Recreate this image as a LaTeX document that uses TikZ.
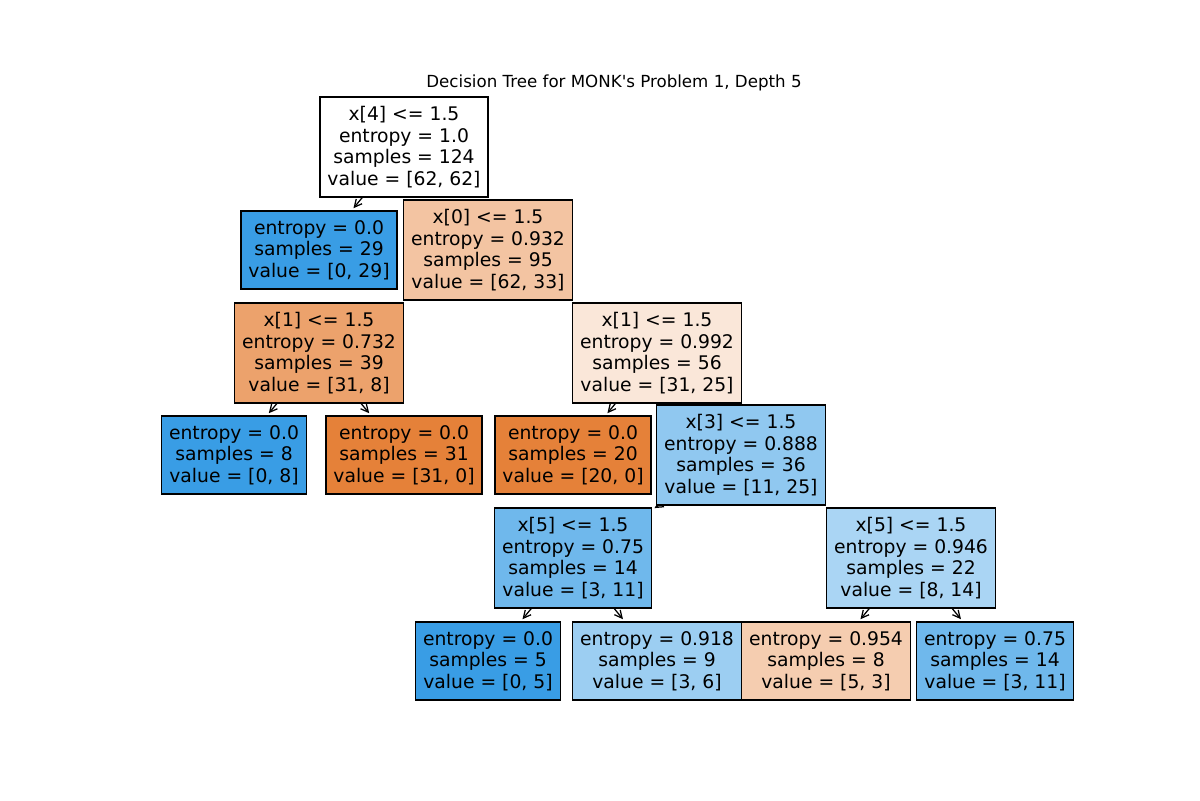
\documentclass[tikz,border=0pt]{standalone}
\usepackage{fontspec}
\newfontfamily\dvs{DejaVu Sans}
\usetikzlibrary{arrows.meta}
\pgfdeclarelayer{bg}
\pgfdeclarelayer{d5}
\pgfdeclarelayer{d4}
\pgfdeclarelayer{d3}
\pgfdeclarelayer{d2}
\pgfdeclarelayer{d1}
\pgfsetlayers{bg,d5,d4,d3,d2,d1,main}
\definecolor{cwhite}{RGB}{255,255,255}
\definecolor{corange}{RGB}{229,129,57}
\definecolor{cblue}{RGB}{57,157,229}
\definecolor{co6233}{RGB}{243,196,162}
\definecolor{co318}{RGB}{236,162,108}
\definecolor{co3125}{RGB}{250,231,217}
\definecolor{cb1125}{RGB}{144,200,240}
\definecolor{cb311}{RGB}{111,184,236}
\definecolor{cb814}{RGB}{170,213,244}
\definecolor{cb36}{RGB}{156,206,242}
\definecolor{co53}{RGB}{245,205,176}
\tikzset{
  tnode/.style={draw=black, line width=0.9pt, align=center, inner xsep=5.4pt, inner ysep=0pt,
    font=\dvs\fontsize{13.5}{15.6}\selectfont},
  split/.style={tnode, minimum height=72pt},
  leaf/.style={tnode, minimum height=56.2pt},
  arr/.style={{Straight Barb[length=5.4pt,width=5.4pt]}-, line width=0.9pt, shorten <=2pt},
}
\begin{document}
\begin{tikzpicture}[x=0.72pt,y=-0.72pt]
\useasboundingbox (0,0) rectangle (1200,800);
\begin{pgfonlayer}{bg}
\fill[white] (0,0) rectangle (1200,800);
\end{pgfonlayer}
\node[font=\dvs\fontsize{12}{14.4}\selectfont] (title) at (614,83) {Decision Tree for MONK's Problem 1, Depth 5};
% depth 0
\node[split, fill=cwhite] (n0) at (404,147) {x[4] <= 1.5\\entropy = 1.0\\samples = 124\\value = [62, 62]};
% depth 1
\begin{pgfonlayer}{d1}
\node[leaf, fill=cblue] (n1) at (319,250) {entropy = 0.0\\samples = 29\\value = [0, 29]};
\node[split, fill=co6233] (n2) at (488,250) {x[0] <= 1.5\\entropy = 0.932\\samples = 95\\value = [62, 33]};
\end{pgfonlayer}
% depth 2
\begin{pgfonlayer}{d2}
\node[split, fill=co318] (n3) at (319,353) {x[1] <= 1.5\\entropy = 0.732\\samples = 39\\value = [31, 8]};
\node[split, fill=co3125] (n4) at (657,353) {x[1] <= 1.5\\entropy = 0.992\\samples = 56\\value = [31, 25]};
\end{pgfonlayer}
% depth 3
\begin{pgfonlayer}{d3}
\node[leaf, fill=cblue] (n5) at (234,455) {entropy = 0.0\\samples = 8\\value = [0, 8]};
\node[leaf, fill=corange] (n6) at (404,455) {entropy = 0.0\\samples = 31\\value = [31, 0]};
\node[leaf, fill=corange] (n7) at (573,455) {entropy = 0.0\\samples = 20\\value = [20, 0]};
\node[split, fill=cb1125] (n8) at (741,455) {x[3] <= 1.5\\entropy = 0.888\\samples = 36\\value = [11, 25]};
\end{pgfonlayer}
% depth 4
\begin{pgfonlayer}{d4}
\node[split, fill=cb311] (n9) at (573,558) {x[5] <= 1.5\\entropy = 0.75\\samples = 14\\value = [3, 11]};
\node[split, fill=cb814] (n10) at (911,558) {x[5] <= 1.5\\entropy = 0.946\\samples = 22\\value = [8, 14]};
\end{pgfonlayer}
% depth 5
\begin{pgfonlayer}{d5}
\node[leaf, fill=cblue] (n11) at (488,661) {entropy = 0.0\\samples = 5\\value = [0, 5]};
\node[leaf, fill=cb36] (n12) at (657,661) {entropy = 0.918\\samples = 9\\value = [3, 6]};
\node[leaf, fill=co53] (n13) at (826,661) {entropy = 0.954\\samples = 8\\value = [5, 3]};
\node[leaf, fill=cb311] (n14) at (995,661) {entropy = 0.75\\samples = 14\\value = [3, 11]};
\end{pgfonlayer}
% connectors
\begin{pgfonlayer}{d1}
\draw[arr] (n1) -- (n0.center);
\draw[arr] (n2) -- (n0.center);
\end{pgfonlayer}
\begin{pgfonlayer}{d2}
\draw[arr] (n3) -- (n2.center);
\draw[arr] (n4) -- (n2.center);
\end{pgfonlayer}
\begin{pgfonlayer}{d3}
\draw[arr] (n5) -- (n3.center);
\draw[arr] (n6) -- (n3.center);
\draw[arr] (n7) -- (n4.center);
\draw[arr] (n8) -- (n4.center);
\end{pgfonlayer}
\begin{pgfonlayer}{d4}
\draw[arr] (n9) -- (n8.center);
\draw[arr] (n10) -- (n8.center);
\end{pgfonlayer}
\begin{pgfonlayer}{d5}
\draw[arr] (n11) -- (n9.center);
\draw[arr] (n12) -- (n9.center);
\draw[arr] (n13) -- (n10.center);
\draw[arr] (n14) -- (n10.center);
\end{pgfonlayer}
\end{tikzpicture}
\end{document}
